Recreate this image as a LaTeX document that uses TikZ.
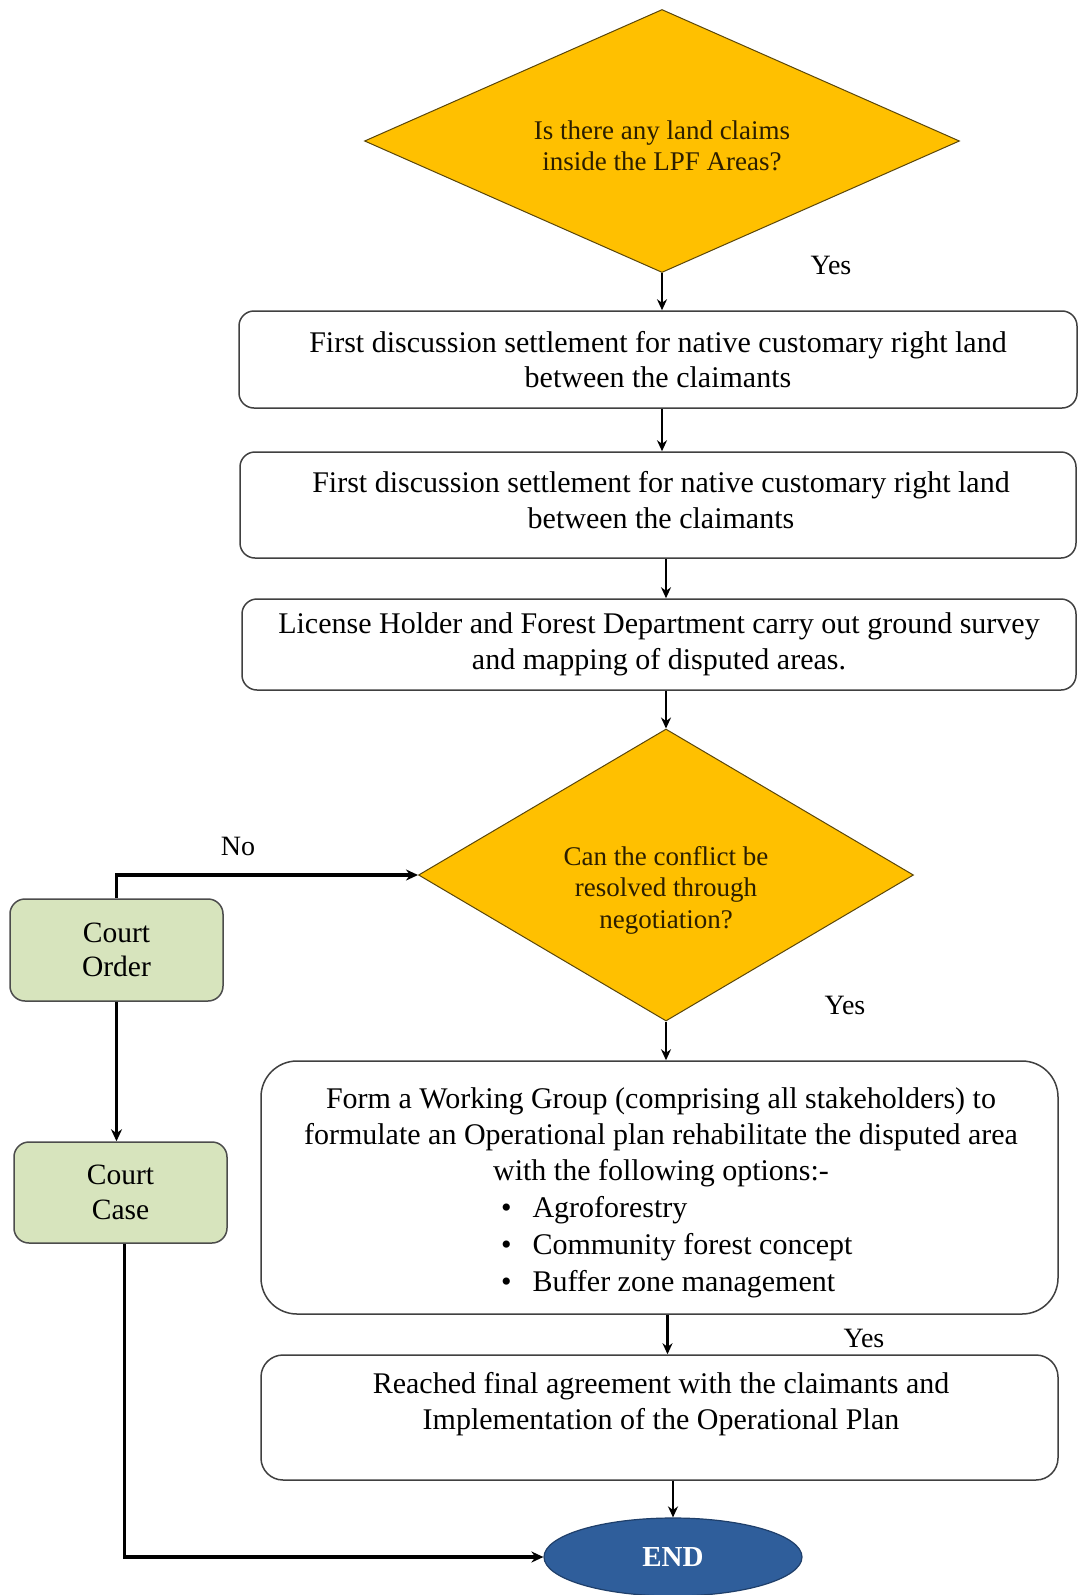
\documentclass[tikz,border=0pt]{standalone}
\usepackage{fontspec}
\setmainfont{Liberation Serif}
\usetikzlibrary{shapes.geometric,arrows.meta,calc}
\definecolor{gold}{HTML}{FFC000}
\definecolor{golddark}{HTML}{5A460A}
\definecolor{courtgreen}{HTML}{D7E4BD}
\definecolor{endblue}{HTML}{2F5E9B}
\definecolor{enddark}{HTML}{1F3F6A}
\definecolor{dtext}{HTML}{2B1E00}
\begin{document}
\begin{tikzpicture}[x=1pt,y=-1pt,
  decision/.style={diamond, draw=golddark, fill=gold, line width=1pt, inner sep=0pt},
  dtxt/.style={align=center, inner sep=0pt, text=dtext, font=\fontsize{27pt}{31.5pt}\selectfont},
  box/.style={rectangle, rounded corners=15pt, draw=black!75, line width=1.5pt, fill=white, inner sep=0pt, align=center, font=\fontsize{30pt}{35.6pt}\selectfont},
  btxt/.style={align=center, inner sep=0pt, font=\fontsize{30pt}{35.6pt}\selectfont},
  court/.style={rectangle, rounded corners=15pt, draw=black!70, line width=1.5pt, fill=courtgreen, inner sep=0pt, align=center, minimum width=213pt, font=\fontsize{29.5pt}{34.5pt}\selectfont},
  endnode/.style={ellipse, draw=enddark, line width=1.2pt, fill=endblue, inner sep=0pt, text=white, font=\fontsize{29pt}{34pt}\selectfont\bfseries},
  lbl/.style={inner sep=0pt, font=\fontsize{28pt}{32pt}\selectfont},
  conn/.style={line width=2.8pt, -{Stealth[length=11pt,width=10pt]}},
  connb/.style={line width=3.2pt, -{Stealth[length=12pt,width=11pt]}}]

\fill[white] (0,0) rectangle (1078,1595);
\useasboundingbox (0,0) rectangle (1078,1595);

% decisions
\node[decision, minimum width=595pt, minimum height=263pt] (d1) at (662,141) {};
\node[dtxt] (d1t) at (662,146) {Is there any land claims\\inside the LPF Areas?};

\node[box, minimum width=838pt, minimum height=97pt] (b1) at (658,359.5)
  {First discussion settlement for native customary right land\\between the claimants};

\node[box, minimum width=836pt, minimum height=106pt] (b2) at (658,505) {};
\node[btxt] (b2t) at (661,500) {First discussion settlement for native customary right land\\between the claimants};

\node[box, minimum width=834pt, minimum height=91pt] (b3) at (659,644.5)
  {License Holder and Forest Department carry out ground survey\\and mapping of disputed areas.};

\node[decision, minimum width=495pt, minimum height=292pt] (d2) at (666,875) {};
\node[dtxt] (d2t) at (666,890) {Can the conflict be\\resolved through\\negotiation?};

\node[court, minimum height=102pt] (co) at (116.5,950) {Court\\Order};
\node[court, minimum height=101pt] (cc) at (120.5,1192.5) {Court\\Case};

\node[box, rounded corners=36pt, minimum width=797pt, minimum height=253pt] (b4) at (659.5,1187.5) {};
\node[btxt] (b4t) at (661,1193)
  {Form a Working Group (comprising all stakeholders) to\\
   formulate an Operational plan rehabilitate the disputed area\\
   with the following options:-\\[1.5pt]
   \makebox[320pt][l]{\textbullet\hspace{21pt}Agroforestry}\\[1.5pt]
   \makebox[320pt][l]{\textbullet\hspace{21pt}Community forest concept}\\[1.5pt]
   \makebox[320pt][l]{\textbullet\hspace{21pt}Buffer zone management}};

\node[box, rounded corners=22pt, minimum width=797pt, minimum height=125pt] (b5) at (659.5,1417.5) {};
\node[btxt] (b5t) at (661,1404) {Reached final agreement with the claimants and\\Implementation of the Operational Plan};

\node[endnode, minimum width=258pt, minimum height=78pt] (end) at (673,1557) {END};

% labels
\node[lbl] (yes1) at (831,265) {Yes};
\node[lbl] (no1) at (238,846) {No};
\node[lbl] (yes2) at (845,1005) {Yes};
\node[lbl] (yes3) at (864,1338) {Yes};

% connectors
\draw[conn] (d1.south) -- (d1.south |- b1.north);
\draw[conn] (d1.south |- b1.south) -- (d1.south |- b2.north);
\draw[conn] (d2.north |- b2.south) -- (d2.north |- b3.north);
\draw[conn] (d2.north |- b3.south) -- (d2.north);
\draw[conn] (d2.south) -- (d2.south |- b4.north);
\draw[conn] ($(b4.south)+(8,0)$) -- ($(b4.south |- b5.north)+(8,0)$);
\draw[conn] (end.north |- b5.south) -- (end.north);
\draw[connb] (co.north) -- (co.north |- d2.west) -- (d2.west);
\draw[connb] (co.south) -- (co.south |- cc.north);
\draw[connb] ($(cc.south)+(4,0)$) |- (end.west);
\end{tikzpicture}
\end{document}
